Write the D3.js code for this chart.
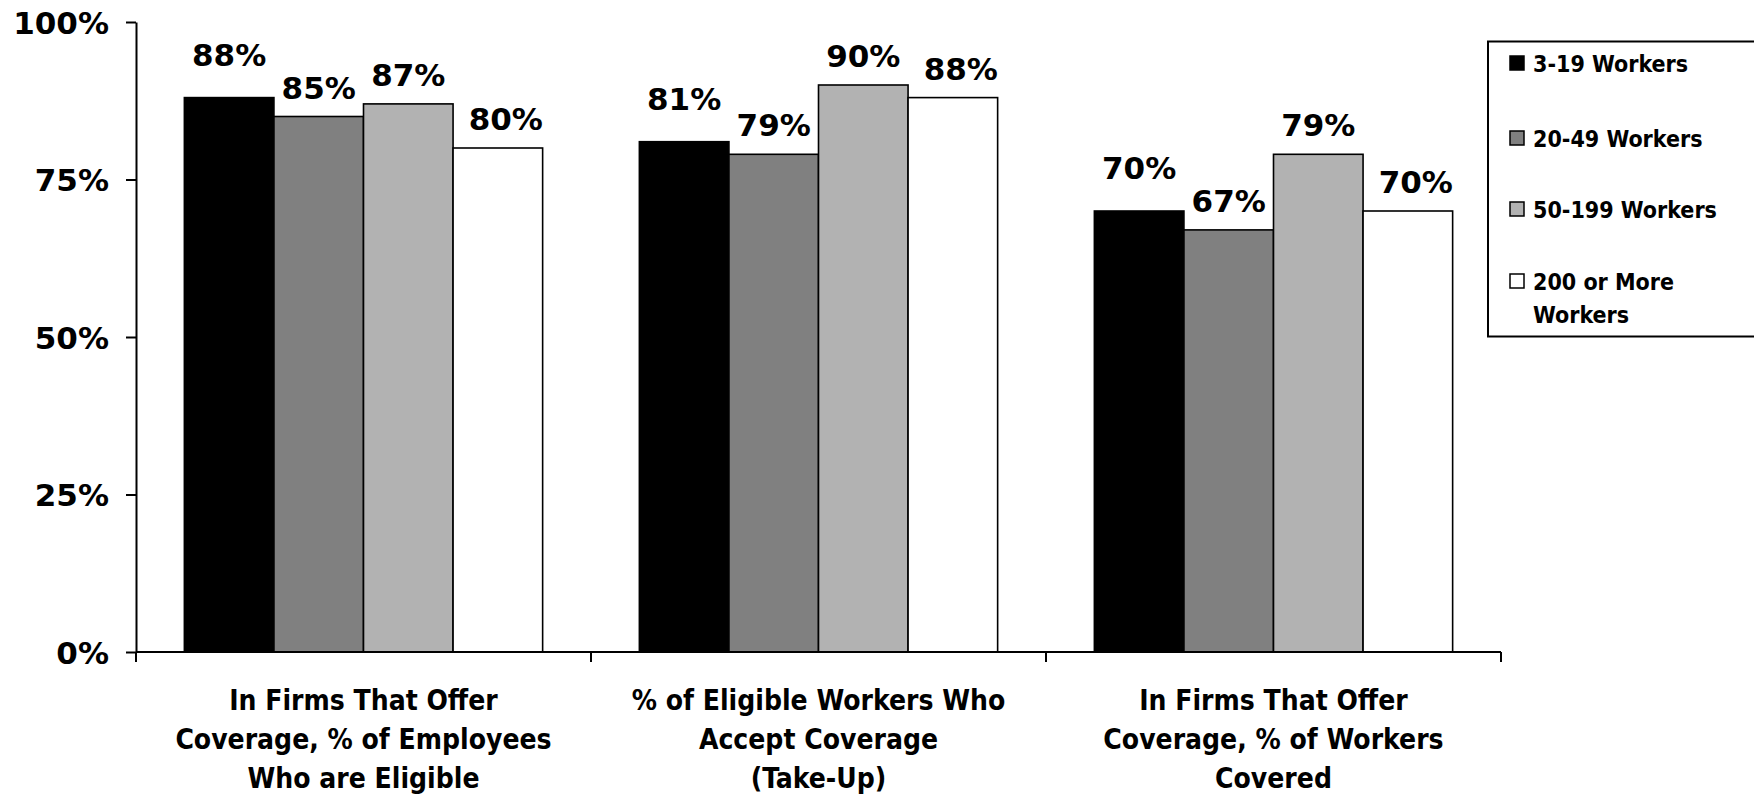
<!DOCTYPE html>
<html>
<head>
<meta charset="utf-8">
<script src="https://cdn.jsdelivr.net/npm/d3@7"></script>
<style>
  html, body { margin: 0; padding: 0; background: #fff; }
  svg { display: block; }
  text { font-family: "DejaVu Sans", Verdana, sans-serif; font-weight: bold; fill: #000; }
  text.cond { font-family: "DejaVu Sans Condensed", "DejaVu Sans", sans-serif; font-stretch: condensed; }
</style>
</head>
<body>
<svg id="chart" width="1754" height="799"></svg>
<script>
// ---- data ----
const categories = [
  ["In Firms That Offer", "Coverage, % of Employees", "Who are Eligible"],
  ["% of Eligible Workers Who", "Accept Coverage", "(Take-Up)"],
  ["In Firms That Offer", "Coverage, % of Workers", "Covered"]
];
const seriesNames = ["3-19 Workers", "20-49 Workers", "50-199 Workers", "200 or More Workers"];
const legendLines = [["3-19 Workers"], ["20-49 Workers"], ["50-199 Workers"], ["200 or More", "Workers"]];
const values3to19 = [88, 81, 70];
const values20to49 = [85, 79, 67];
const values50to199 = [87, 90, 79];
const values200plus = [80, 88, 70];
const yTickValues = [0, 25, 50, 75, 100];
const seriesColors = ["#000000", "#808080", "#b2b2b2", "#ffffff"];

const seriesValues = [values3to19, values20to49, values50to199, values200plus];

// ---- layout ----
const svg = d3.select("#chart");
const plotLeft = 136, plotRight = 1501, plotTop = 22, plotBottom = 652;

const y = d3.scaleLinear().domain([0, 100]).range([plotBottom, plotTop]);
const catIdx = categories.map((c, i) => i);
const x0 = d3.scaleBand().domain(catIdx).range([plotLeft, plotRight]).padding(0);
const x1 = d3.scaleBand().domain(seriesNames).range([0, x0.bandwidth()]).paddingInner(0).paddingOuter(0.54);

// y axis
const yAxis = d3.axisLeft(y).tickValues(yTickValues).tickFormat(d => d + "%")
  .tickSize(10).tickSizeOuter(0).tickPadding(17);
const gy = svg.append("g").attr("transform", `translate(${plotLeft},0)`).call(yAxis);
gy.attr("font-family", null).attr("font-size", null);
gy.select(".domain").attr("stroke", "#000").attr("stroke-width", 2);
gy.selectAll(".tick line").attr("stroke", "#000").attr("stroke-width", 2);
gy.selectAll(".tick text").style("font-size", "31px").attr("fill", "#000").attr("dy", "0.36em");

// bars
const flat = [];
catIdx.forEach(ci => seriesNames.forEach((s, si) => flat.push({ ci, s, si, v: seriesValues[si][ci] })));

svg.append("g").selectAll("rect").data(flat).join("rect")
  .attr("x", d => x0(d.ci) + x1(d.s))
  .attr("y", d => y(d.v))
  .attr("width", x1.bandwidth())
  .attr("height", d => y(0) - y(d.v))
  .attr("fill", d => seriesColors[d.si])
  .attr("stroke", "#000")
  .attr("stroke-width", 1.6);

// value labels
svg.append("g").selectAll("text").data(flat).join("text")
  .attr("x", d => x0(d.ci) + x1(d.s) + x1.bandwidth() / 2 + (d.si === 3 ? 8 : 0))
  .attr("y", d => y(d.v) - (d.si === 0 ? 32 : 18))
  .attr("text-anchor", "middle")
  .style("font-size", "31px")
  .text(d => d.v + "%");

// x axis
const xAxisLine = svg.append("g");
xAxisLine.append("line").attr("x1", plotLeft).attr("x2", plotRight).attr("y1", y(0)).attr("y2", y(0))
  .attr("stroke", "#000").attr("stroke-width", 2);
const boundaries = catIdx.map(ci => x0(ci)).concat([x0(catIdx[catIdx.length - 1]) + x0.bandwidth()]);
xAxisLine.selectAll("line.tk").data(boundaries).join("line").attr("class", "tk")
  .attr("x1", d => d).attr("x2", d => d).attr("y1", y(0)).attr("y2", y(0) + 10)
  .attr("stroke", "#000").attr("stroke-width", 2);

// category labels
const catG = svg.append("g");
catIdx.forEach(ci => {
  const t = catG.append("text").attr("class", "cond")
    .attr("x", x0(ci) + x0.bandwidth() / 2)
    .attr("y", 710)
    .attr("text-anchor", "middle")
    .style("font-size", "28px");
  categories[ci].forEach((line, li) => {
    t.append("tspan").attr("x", x0(ci) + x0.bandwidth() / 2).attr("dy", li === 0 ? 0 : 39).text(line);
  });
});

// legend
const lg = svg.append("g");
lg.append("rect").attr("x", 1488).attr("y", 41.5).attr("width", 280).attr("height", 295)
  .attr("fill", "#fff").attr("stroke", "#000").attr("stroke-width", 2);
const legendBase = [72, 147, 218, 290];
legendLines.forEach((lines, i) => {
  lg.append("rect").attr("x", 1510).attr("y", legendBase[i] - 16).attr("width", 14).attr("height", 14)
    .attr("fill", seriesColors[i]).attr("stroke", "#000").attr("stroke-width", 1.5);
  const t = lg.append("text").attr("class", "cond").attr("x", 1533).attr("y", legendBase[i]).style("font-size", "23px");
  lines.forEach((ln, li) => t.append("tspan").attr("x", 1533).attr("dy", li === 0 ? 0 : 33).text(ln));
});
</script>
</body>
</html>
